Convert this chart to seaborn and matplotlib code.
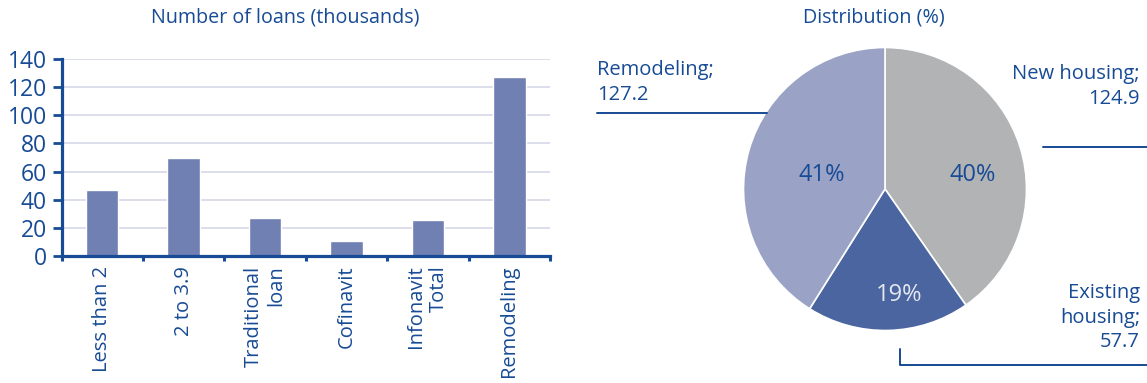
import matplotlib
matplotlib.use("Agg")
import matplotlib.pyplot as plt
from matplotlib.lines import Line2D
import seaborn as sns
import numpy as np

# Loans by segment (thousands)
categories = ["Less than 2", "2 to 3.9", "Traditional\nloan", "Cofinavit",
              "Infonavit\nTotal", "Remodeling"]
loans = [47.2, 69.8, 27.3, 10.4, 25.9, 127.2]
y_ticks = [0, 20, 40, 60, 80, 100, 120, 140]

# Distribution of loans by destination
pie_labels = ["New housing", "Existing\nhousing", "Remodeling"]
pie_values = [124.9, 57.7, 127.2]

TEXT = "#174b95"
BAR = "#7080b2"
GRID = "#d5d8e8"
PIE_COLORS = ["#b2b3b5", "#4a659f", "#9aa2c6"]

sns.set_theme(style="white")
plt.rcParams["font.family"] = ["Open Sans", "DejaVu Sans"]

W, H = 1147, 383
fig = plt.figure(figsize=(W / 100, H / 100), dpi=100)


def fx(px):
    return px / W


def fy(py):
    return 1 - py / H


# ---------------- bar chart ----------------
ax = fig.add_axes([fx(61.5), fy(256), fx(550) - fx(61.5), fy(59) - fy(256)])
sns.barplot(x=categories, y=loans, color=BAR, saturation=1, width=0.4,
            ax=ax, zorder=3)
ax.set_xlim(-0.5, len(categories) - 0.5)
ax.set_ylim(0, 140)
ax.set_yticks(y_ticks)
ax.set_xlabel("")
ax.set_ylabel("")
ax.yaxis.grid(True, color=GRID, lw=1.2, zorder=0)
ax.set_axisbelow(True)
for s in ["top", "right"]:
    ax.spines[s].set_visible(False)
for s in ["left", "bottom"]:
    ax.spines[s].set_color(TEXT)
    ax.spines[s].set_linewidth(2.3)
    ax.spines[s].set_zorder(4)
ax.tick_params(axis="y", which="major", direction="out", length=6.5,
               width=2.0, color=TEXT, labelcolor=TEXT, labelsize=16.5, pad=4,
               left=True)
ax.set_xticks(np.arange(-0.5, len(categories)), minor=True)
ax.tick_params(axis="x", which="minor", direction="out", length=3.5,
               width=2.2, color=TEXT, bottom=True)
ax.tick_params(axis="x", which="major", length=0, labelcolor=TEXT,
               labelsize=14.5, pad=7, labelrotation=90)
for lbl in ax.get_xticklabels():
    lbl.set_multialignment("right")
    lbl.set_verticalalignment("top")
    lbl.set_horizontalalignment("center")

fig.text(fx(285), fy(18), "Number of loans (thousands)", color=TEXT,
         fontsize=14.2, ha="center", va="center")

# ---------------- pie chart ----------------
cx, cy, r = 885, 189, 141.5
pax = fig.add_axes([fx(cx - r), fy(cy + r), fx(2 * r), fy(cy - r) - fy(cy + r)])
wedges, _ = pax.pie(pie_values, colors=PIE_COLORS, startangle=90,
                    counterclock=False, radius=1,
                    wedgeprops=dict(edgecolor="white", linewidth=1.2))
pax.set_aspect("auto")
pax.set_xlim(-1, 1)
pax.set_ylim(-1, 1)
pax.axis("off")

total = sum(pie_values)
pct_pos = [(0.62, 0.10), (0.10, -0.75), (-0.45, 0.10)]
pct_col = [TEXT, "#e4e7f0", TEXT]
for v, (px_, py_), c in zip(pie_values, pct_pos, pct_col):
    pax.text(px_, py_, f"{round(100 * v / total):.0f}%", color=c,
             fontsize=17, ha="center", va="center")

fig.text(fx(874), fy(18), "Distribution (%)", color=TEXT, fontsize=14.2,
         ha="center", va="center")

# Callout labels with leader lines
fig.text(fx(597), fy(60), f"{pie_labels[2]};\n{pie_values[2]}", color=TEXT,
         fontsize=14.5, ha="left", va="top", linespacing=1.3)
fig.text(fx(1140), fy(64), f"{pie_labels[0]};\n{pie_values[0]}", color=TEXT,
         fontsize=14.5, ha="right", va="top", multialignment="right",
         linespacing=1.3)
fig.text(fx(1140), fy(283), f"{pie_labels[1]};\n{pie_values[1]}", color=TEXT,
         fontsize=14.5, ha="right", va="top", multialignment="right",
         linespacing=1.3)

lines = [
    ([597, 767], [113, 113]),
    ([1043, 1147], [147, 147]),
    ([900, 900, 1147], [349, 365, 365]),
]
for xs, ys in lines:
    fig.add_artist(Line2D([fx(v) for v in xs], [fy(v) for v in ys],
                          color=TEXT, lw=1.4, transform=fig.transFigure))

fig.savefig("out.png", dpi=100, facecolor="white")
